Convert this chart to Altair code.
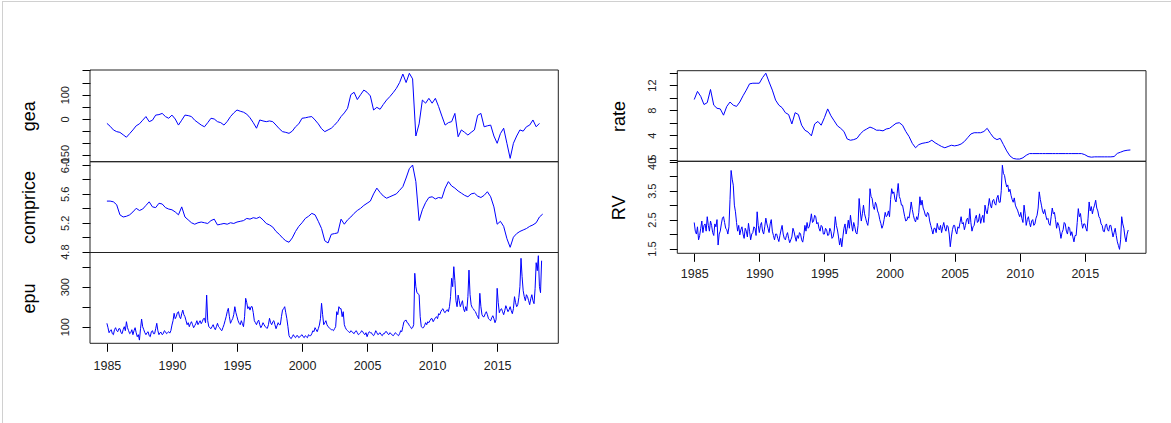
import altair as alt
import pandas as pd

# ---------------- data ----------------
START = 1985.0
QUARTER = 0.25
MONTH = 1.0 / 12.0

gea_q = [
    -18, -30, -45, -52,   -55, -65, -75, -60,   -45, -28, -20, -5,   10, -11, -5, 16,
    18, 23, 10, 3,        16, 0, -25, -5,       16, 14, 10, -5,      -15, -25, -32, -15,
    3, 0, -11, -15,       -25, -10, 10, 25,     37, 32, 28, 20,      5, -15, -38, -4,
    -8, -11, -8, -11,     -25, -40, -52, -55,   -59, -50, -32, -20,  3, 5, 8, 10,
    -4, -20, -40, -52,    -45, -38, -25, -10,   10, 25, 44, 100,     110, 80, 100, 119,
    110, 95, 37, 48,      40, 60, 78, 92,       108, 126, 150, 185,  150, 188, 165, -70,
    -20, 78, 65, 85,      65, 85, 51, 12,       -25, -15, -11, 23,   -73, -45, -55, -66,
    -55, -45, 15, 23,     -32, -28, -25, -70,   -100, -60, -38, -100, -162, -100, -70, -45,
    -50, -32, -25, -4,    -32, -18,
]

comprice_q = [
    5.50, 5.50, 5.49, 5.45,  5.31, 5.28, 5.29, 5.31,  5.35, 5.40, 5.37, 5.39,  5.44, 5.49, 5.42, 5.41,
    5.47, 5.46, 5.41, 5.39,  5.38, 5.35, 5.31, 5.42,  5.28, 5.24, 5.20, 5.18,  5.20, 5.21, 5.20, 5.19,
    5.23, 5.25, 5.17, 5.18,  5.19, 5.18, 5.20, 5.19,  5.21, 5.22, 5.23, 5.26,  5.25, 5.27, 5.26, 5.28,
    5.24, 5.19, 5.17, 5.14,  5.08, 5.04, 4.99, 4.95,  4.93, 4.99, 5.08, 5.15,  5.20, 5.26, 5.29, 5.33,
    5.31, 5.22, 5.12, 4.95,  4.92, 5.04, 5.05, 5.06,  5.25, 5.18, 5.24, 5.28,  5.33, 5.37, 5.40, 5.44,
    5.47, 5.50, 5.60, 5.68,  5.62, 5.57, 5.54, 5.56,  5.58, 5.60, 5.65, 5.70,  5.82, 5.95, 6.00, 5.77,
    5.23, 5.38, 5.48, 5.55,  5.56, 5.53, 5.55, 5.54,  5.68, 5.77, 5.71, 5.68,  5.64, 5.61, 5.58, 5.56,
    5.60, 5.61, 5.57, 5.55,  5.58, 5.63, 5.56, 5.42,  5.18, 5.22, 5.15, 4.98,  4.86, 5.00, 5.05, 5.08,
    5.10, 5.12, 5.15, 5.17,  5.20, 5.28, 5.32,
]

epu_m = [
    117, 95, 70, 80, 85, 65, 60, 85, 95, 80, 75, 90,
    90, 70, 65, 85, 100, 80, 125, 95, 80, 65, 70, 85,
    60, 80, 95, 70, 50, 60, 33, 90, 138, 100, 85, 70,
    60, 70, 75, 55, 50, 75, 80, 65, 65, 90, 117, 80,
    60, 70, 72, 60, 65, 80, 75, 65, 70, 75, 68, 80,
    108, 130, 167, 140, 150, 170, 175, 150, 140, 165, 183, 160,
    150, 130, 110, 120, 100, 115, 125, 110, 95, 105, 115, 130,
    110, 120, 130, 115, 125, 140, 142, 120, 258, 130, 100, 95,
    90, 100, 110, 95, 85, 100, 117, 100, 95, 85, 80, 95,
    110, 130, 150, 175, 192, 150, 117, 130, 140, 160, 200, 170,
    150, 130, 117, 110, 130, 115, 100, 150, 242, 220, 190, 200,
    183, 200, 200, 170, 130, 120, 110, 125, 133, 110, 95, 105,
    120, 110, 100, 95, 92, 110, 142, 120, 110, 125, 130, 110,
    90, 105, 120, 110, 110, 150, 183, 190, 200, 170, 140, 100,
    55, 45, 40, 50, 60, 50, 45, 55, 55, 45, 50, 55,
    60, 50, 45, 55, 50, 45, 60, 55, 55, 65, 80, 75,
    95, 85, 75, 90, 108, 140, 217, 160, 110, 120, 130, 110,
    100, 95, 90, 85, 85, 80, 90, 100, 175, 160, 200, 190,
    190, 150, 175, 110, 95, 85, 80, 75, 70, 80, 75, 70,
    65, 75, 80, 70, 60, 65, 70, 80, 75, 65, 60, 70,
    50, 65, 75, 70, 70, 60, 55, 65, 80, 70, 60, 65,
    70, 60, 55, 65, 65, 75, 75, 65, 60, 70, 65, 60,
    55, 60, 70, 65, 60, 55, 65, 80, 75, 100, 125, 130,
    133, 120, 117, 105, 100, 90, 95, 110, 367, 300, 270, 265,
    260, 150, 100, 95, 95, 105, 120, 110, 125, 120, 130, 140,
    140, 125, 135, 145, 150, 140, 165, 160, 175, 185, 190, 175,
    170, 180, 185, 175, 200, 250, 342, 300, 400, 330, 230, 200,
    258, 230, 200, 215, 230, 190, 175, 200, 180, 250, 383, 260,
    210, 195, 190, 180, 175, 160, 150, 140, 267, 200, 160, 150,
    150, 165, 175, 160, 140, 135, 130, 145, 155, 140, 120, 135,
    292, 220, 170, 185, 190, 175, 160, 180, 205, 190, 175, 185,
    200, 180, 165, 190, 250, 220, 200, 210, 245, 300, 442, 350,
    280, 250, 230, 260, 250, 230, 210, 240, 260, 230, 215, 290,
    420, 380, 455, 300, 270, 430,
]

rate_q = [
    9.7, 11.0, 10.2, 8.9,   9.2, 11.3, 8.8, 8.3,    8.2, 7.2, 8.6, 9.3,     8.8, 8.6, 9.3, 10.3,
    11.2, 12.2, 12.3, 12.3, 12.3, 13.2, 13.9, 12.5, 11.2, 9.6, 8.8, 8.4,    7.6, 7.3, 5.8, 7.6,
    7.3, 5.6, 4.8, 4.5,     3.9, 5.8, 6.2, 5.6,     6.8, 8.2, 7.1, 6.3,     5.5, 5.1, 4.6, 3.4,
    3.2, 3.3, 3.5, 4.2,     4.7, 5.0, 5.3, 5.1,     4.8, 4.8, 4.7, 5.0,     5.1, 5.5, 5.9, 6.0,
    5.6, 4.6, 3.8, 2.7,     2.0, 2.5, 2.7, 2.8,     2.9, 3.2, 2.8, 2.5,     2.2, 2.0, 2.2, 2.4,
    2.3, 2.4, 2.6, 3.0,     3.6, 4.2, 4.4, 4.4,     4.4, 4.6, 5.1, 4.3,     3.6, 3.3, 3.5, 2.5,
    1.5, 0.7, 0.3, 0.2,     0.2, 0.4, 0.8, 1.07,    1.07, 1.07, 1.07, 1.07, 1.07, 1.07, 1.07, 1.07,
    1.07, 1.07, 1.07, 1.07, 1.07, 1.07, 1.07, 1.07, 0.9, 0.6, 0.5, 0.55,    0.55, 0.55, 0.55, 0.55,
    0.55, 0.6, 1.1, 1.3,    1.5, 1.6, 1.65,
]

rv_m = [
    2.40, 2.10, 2.00, 2.25, 1.80, 1.95, 2.20, 2.45, 2.05, 2.30, 2.35, 2.10,
    2.60, 2.30, 2.10, 2.45, 2.30, 2.05, 1.95, 2.35, 2.25, 2.50, 1.62, 2.00,
    2.10, 2.35, 2.55, 2.60, 2.40, 2.20, 2.15, 2.00, 2.25, 3.20, 4.20, 3.90,
    3.69, 3.00, 2.77, 2.40, 2.10, 2.30, 1.97, 2.15, 2.25, 2.00, 1.85, 2.20,
    2.10, 1.90, 2.37, 2.10, 1.80, 2.00, 2.05, 2.25, 2.20, 1.95, 2.77, 2.30,
    2.05, 2.30, 2.40, 2.10, 2.00, 2.25, 2.55, 2.35, 2.20, 2.05, 2.35, 2.50,
    2.10, 1.95, 1.80, 2.00, 2.00, 1.85, 1.74, 1.95, 2.14, 2.30, 2.00, 1.85,
    1.80, 1.95, 2.05, 1.85, 1.70, 1.80, 1.90, 2.20, 2.08, 1.90, 1.75, 1.95,
    1.85, 2.05, 2.00, 1.80, 1.72, 1.95, 2.30, 2.10, 2.40, 2.20, 2.25, 2.45,
    2.70, 2.40, 2.45, 2.65, 2.60, 2.35, 2.40, 2.20, 2.10, 2.30, 2.25, 2.00,
    2.00, 2.20, 2.15, 1.95, 1.97, 2.20, 2.10, 1.85, 1.90, 2.10, 2.60, 2.30,
    2.14, 1.90, 1.62, 1.85, 1.56, 1.90, 2.20, 2.35, 2.00, 2.20, 2.48, 2.20,
    2.65, 2.35, 2.10, 2.40, 2.25, 2.05, 2.00, 2.30, 3.23, 2.80, 2.45, 2.70,
    3.00, 2.70, 2.55, 2.40, 2.30, 2.60, 3.57, 3.30, 3.23, 2.95, 2.85, 3.10,
    3.00, 2.80, 2.70, 2.50, 2.37, 2.20, 2.30, 2.50, 2.75, 2.60, 2.65, 2.80,
    2.60, 3.20, 3.57, 3.40, 3.46, 3.20, 3.11, 3.40, 3.75, 3.30, 3.20, 3.00,
    3.00, 2.80, 2.60, 2.45, 2.48, 2.60, 2.55, 2.80, 3.11, 2.85, 2.65, 2.50,
    2.42, 2.60, 2.50, 2.75, 3.29, 3.00, 3.17, 2.90, 2.80, 2.65, 2.60, 2.75,
    2.70, 2.45, 2.30, 2.15, 2.00, 2.20, 2.20, 2.05, 2.37, 2.20, 2.14, 2.30,
    2.05, 2.25, 2.40, 2.20, 2.10, 2.30, 2.25, 2.00, 1.56, 1.90, 2.15, 2.30,
    2.30, 2.10, 2.00, 2.25, 2.20, 2.40, 2.60, 2.35, 2.40, 2.15, 2.30, 2.50,
    2.55, 2.35, 2.88, 2.40, 2.10, 2.25, 2.30, 2.55, 2.65, 2.40, 2.45, 2.70,
    2.37, 2.55, 2.65, 2.40, 3.00, 2.80, 2.70, 2.95, 3.23, 3.00, 2.90, 3.15,
    3.20, 3.05, 3.00, 3.25, 3.34, 3.10, 3.10, 3.50, 4.38, 4.10, 4.03, 3.80,
    3.63, 3.70, 3.46, 3.55, 3.34, 3.20, 3.10, 3.25, 3.00, 2.90, 2.83, 2.70,
    2.60, 2.75, 2.54, 2.40, 3.00, 2.70, 2.30, 2.50, 2.60, 2.40, 2.25, 2.45,
    2.50, 2.30, 2.35, 2.55, 2.65, 2.90, 3.46, 3.20, 3.00, 2.80, 2.70, 2.85,
    2.65, 2.50, 2.54, 2.35, 2.30, 2.60, 2.90, 2.70, 2.75, 2.50, 2.20, 2.40,
    2.30, 2.10, 1.85, 2.05, 2.15, 2.40, 2.35, 2.10, 2.00, 2.25, 2.20, 1.95,
    2.08, 1.90, 1.73, 1.95, 1.95, 2.40, 2.88, 2.60, 2.71, 2.40, 2.20, 2.35,
    2.35, 2.20, 2.10, 2.55, 3.11, 2.80, 2.95, 2.70, 2.88, 3.00, 3.17, 2.90,
    2.80, 2.60, 2.54, 2.35, 2.30, 2.10, 2.08, 2.30, 2.35, 2.15, 2.10, 2.30,
    2.30, 2.10, 1.90, 2.05, 2.20, 1.95, 1.73, 1.60, 1.47, 1.80, 2.60, 2.35,
    2.20, 1.90, 1.73, 2.00, 2.14,
]

year_ticks = [1985, 1990, 1995, 2000, 2005, 2010, 2015]
gea_ticks = [-150, -100, -50, 0, 50, 100, 150, 200]
gea_labels = {-150: "-150", 0: "0", 100: "100"}
comprice_ticks = [4.8, 5.0, 5.2, 5.4, 5.6, 5.8, 6.0]
comprice_labels = {4.8: "4.8", 5.2: "5.2", 5.6: "5.6", 6.0: "6.0"}
epu_ticks = [100, 200, 300, 400]
epu_labels = {100: "100", 300: "300"}
rate_ticks = [0, 2, 4, 6, 8, 10, 12, 14]
rate_labels = {0: "0", 4: "4", 8: "8", 12: "12"}
rv_ticks = [1.5, 2.0, 2.5, 3.0, 3.5, 4.0, 4.5]
rv_labels = {1.5: "1.5", 2.5: "2.5", 3.5: "3.5", 4.5: "4.5"}

# ---------------- layout ----------------
W, H = 1171, 423
X_DOMAIN = [1983.7, 2019.7]
LEFT_X = (90.0, 558.3)
RIGHT_X = (677.3, 1146.0)
FONT = "Liberation Sans"
LINE_COLOR = "#0000ff"
BOX_COLOR = "#222222"
TEXT_COLOR = "#222222"


def series_frame(values, step):
    return pd.DataFrame({"t": [START + i * step for i in range(len(values))], "v": values})


def label_expr(labels):
    expr = "''"
    for val, text in labels.items():
        expr = f"abs(datum.value - ({val})) < 1e-6 ? '{text}' : " + expr
    return expr


def panel(name, values, step, y_domain, y_px, x_px, ticks, labels, title_x,
          x_axis_y=None, x_label_pad=8):
    df = series_frame(values, step)
    x_scale = alt.Scale(domain=X_DOMAIN, range=[x_px[0], x_px[1]], nice=False, zero=False)
    y_scale = alt.Scale(domain=y_domain, range=[y_px[1], y_px[0]], nice=False, zero=False)
    y_axis = alt.Axis(
        orient="left", offset=-x_px[0], values=ticks, labelExpr=label_expr(labels),
        labelAngle=270, labelAlign="center", labelBaseline="alphabetic",
        labelPadding=14, labelFontSize=11, labelFont=FONT, labelColor=TEXT_COLOR,
        labelOverlap=False, labelFlush=False,
        tickSize=8, tickColor="black", tickWidth=1, domain=False, grid=False,
        title=name, titleAngle=270, titleAlign="center", titleBaseline="alphabetic",
        titleX=title_x - x_px[0], titleY=(y_px[0] + y_px[1]) / 2.0,
        titleFont=FONT, titleFontSize=18, titleFontWeight="normal", titleColor="black",
    )
    if x_axis_y is None:
        x_enc = alt.X("t:Q", scale=x_scale, axis=None)
    else:
        x_enc = alt.X("t:Q", scale=x_scale, axis=alt.Axis(
            orient="bottom", offset=x_axis_y - H, values=year_ticks, format="d",
            labelAngle=0, labelAlign="center", labelBaseline="top",
            labelPadding=x_label_pad, labelFontSize=12.5, labelFont=FONT, labelColor=TEXT_COLOR,
            labelOverlap=False, labelFlush=False,
            tickSize=8, tickColor="black", tickWidth=1, domain=False, grid=False, title=None,
        ))
    line = alt.Chart(df).mark_line(color=LINE_COLOR, strokeWidth=1).encode(
        x=x_enc,
        y=alt.Y("v:Q", scale=y_scale, axis=y_axis),
    )
    box_df = pd.DataFrame({"t": [X_DOMAIN[0]], "t2": [X_DOMAIN[1]],
                           "v": [y_domain[0]], "v2": [y_domain[1]]})
    # the frame shares the panel's scales (and so its axes) with the line
    box = alt.Chart(box_df).mark_rect(fillOpacity=0, stroke=BOX_COLOR, strokeWidth=1).encode(
        x="t:Q", x2="t2:Q", y="v:Q", y2="v2:Q",
    )
    return alt.layer(line, box)


gea_p = panel("gea", gea_q, QUARTER, [-175.7, 201.6], (70.0, 161.7), LEFT_X,
              gea_ticks, gea_labels, 34.5)
com_p = panel("comprice", comprice_q, QUARTER, [4.788, 6.046], (161.7, 252.5), LEFT_X,
              comprice_ticks, comprice_labels, 34.5)
epu_p = panel("epu", epu_m, MONTH, [17.0, 471.0], (252.5, 343.3), LEFT_X,
              epu_ticks, epu_labels, 34.5, x_axis_y=343.3, x_label_pad=8)
rate_p = panel("rate", rate_q, QUARTER, [-0.16, 14.3], (70.7, 161.3), RIGHT_X,
               rate_ticks, rate_labels, 624.5)
rv_p = panel("RV", rv_m, MONTH, [1.334, 4.517], (161.3, 253.3), RIGHT_X,
             rv_ticks, rv_labels, 624.5, x_axis_y=253.3, x_label_pad=6)

edge = pd.DataFrame({"k": [0]})
border_top = alt.Chart(edge).mark_rule(color="#d0d0d0", strokeWidth=1).encode(
    x=alt.value(2), x2=alt.value(W), y=alt.value(1.5))
border_left = alt.Chart(edge).mark_rule(color="#d0d0d0", strokeWidth=1).encode(
    x=alt.value(2.5), y=alt.value(1.5), y2=alt.value(H))

chart = (
    alt.layer(border_top, border_left, gea_p, com_p, epu_p, rate_p, rv_p)
    .resolve_scale(x="independent", y="independent")
    .properties(width=W, height=H, padding=0, autosize=alt.AutoSizeParams(type="none"),
                background="white")
    .configure_view(strokeWidth=0)
)

chart.save("out.html", embed_options={"renderer": "svg", "actions": False})
